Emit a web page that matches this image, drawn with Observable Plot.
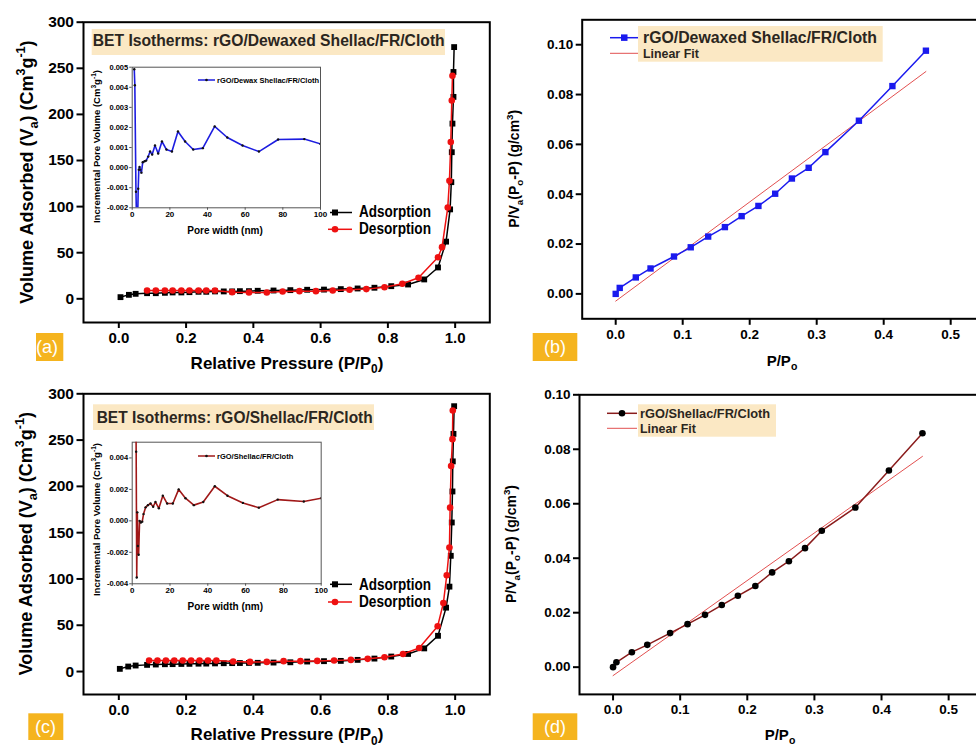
<!DOCTYPE html>
<html><head><meta charset="utf-8">
<script src="https://cdn.jsdelivr.net/npm/d3@7"></script>
<script src="https://cdn.jsdelivr.net/npm/@observablehq/plot@0.6"></script>
<style>
body{margin:0;background:#fff;}
#fig{position:relative;width:976px;height:747px;overflow:hidden;background:#fff;font-family:"Liberation Sans",Arial,sans-serif;}
</style></head>
<body><div id="fig"></div>
<script>
// ---------------- DATA ----------------
// (a) rGO/Dewaxed Shellac/FR/Cloth isotherm
const adsA_x = [0.005,0.03,0.05,0.084,0.11,0.137,0.16,0.186,0.21,0.237,0.26,0.286,0.312,0.337,0.36,0.387,0.413,0.46,0.51,0.56,0.61,0.66,0.71,0.76,0.81,0.86,0.908,0.949,0.973,0.985,0.9886,0.99,0.992,0.995,0.995,0.997];
const adsA_y = [1.8,4.3,5.4,6.1,6.1,6.5,6.9,6.9,7.2,7.6,7.6,8.0,8.0,8.0,8.3,8.3,8.7,9.0,9.4,9.8,10.0,10.5,11.2,12.0,13.7,15.5,21,34,62,97,126.5,159,190,219,246,273];
const desA_x = [0.992,0.99,0.987,0.983,0.978,0.961,0.949,0.891,0.843,0.79,0.736,0.686,0.636,0.586,0.537,0.487,0.44,0.387,0.337,0.286,0.26,0.237,0.21,0.186,0.16,0.137,0.11,0.084];
const desA_y = [242,215,170,128,99,56,45,22.8,16.3,12.6,10.5,9.8,9.0,8.3,8.3,8.0,6.9,6.9,7.2,9.0,9.0,9.0,9.0,9.0,9.0,9.0,9.0,9.0];
// (c) rGO/Shellac/FR/Cloth isotherm
const adsC_x = [0.003,0.028,0.05,0.084,0.11,0.137,0.16,0.186,0.21,0.237,0.26,0.286,0.312,0.337,0.36,0.387,0.413,0.46,0.51,0.56,0.61,0.66,0.71,0.76,0.81,0.86,0.908,0.949,0.973,0.983,0.987,0.99,0.992,0.993,0.995,0.997];
const adsC_y = [2.9,5.4,6.5,7.2,7.6,7.9,8.0,8.2,8.3,8.5,8.6,8.8,9.0,9.1,9.2,9.3,9.4,9.7,10,10.8,11.2,11.5,12.6,14,16.2,19,25,38.6,69,91.7,125,161,194.5,227,256.7,286.6];
const desC_x = [0.993,0.992,0.988,0.985,0.983,0.975,0.965,0.948,0.893,0.845,0.79,0.74,0.69,0.64,0.59,0.54,0.49,0.44,0.39,0.34,0.29,0.265,0.24,0.215,0.19,0.165,0.14,0.115,0.09];
const desC_y = [282,251,222,177,134,104,74,49,25.4,19,15.5,13.7,12.6,12,11.5,11.2,11.2,10.4,10.4,10.8,12,12,12,12,12,12,12,12,12];
// inset pore distributions
const poreA_x = [1.1,1.4,2.0,2.6,3.2,3.5,3.9,4.3,4.9,5.6,6.6,7.4,8.5,9.5,10.6,12.1,13.8,15.8,18.2,21.1,24.3,28.1,32.4,37.5,43.8,50.5,58.6,67.3,77.5,91.4,100];
const poreA_y = [0.0049,0.0041,-0.0012,-0.0040,-0.00105,-0.0001,0.00003,-0.0001,-0.00025,0.00027,0.00032,0.00035,0.00055,0.0008,0.00065,0.0011,0.0007,0.0013,0.0009,0.0008,0.0018,0.0013,0.0009,0.00097,0.00205,0.0015,0.0011,0.0008,0.0014,0.00142,0.00118];
const poreC_x = [1.8,2.1,2.4,2.7,3.0,3.4,3.9,4.6,5.3,6.0,7.1,8.3,9.7,11.1,12.3,14.1,16.2,18.5,21.5,24.6,28.2,32.6,37.6,43.7,50.4,58.6,67.0,77.0,90.8,100];
const poreC_y = [0.009,0.0044,-0.0036,0.00054,-0.0016,-0.00215,0.0,-0.0001,-0.00005,0.00043,0.00086,0.001,0.0011,0.0009,0.0012,0.0008,0.0016,0.0011,0.0011,0.002,0.00144,0.001,0.0012,0.0022,0.0016,0.00114,0.00084,0.00135,0.00123,0.00144];
// (b) BET plot
const betB_x = [0,0.006,0.03,0.052,0.087,0.112,0.138,0.163,0.188,0.213,0.238,0.263,0.288,0.313,0.363,0.413,0.463];
const betB_y = [0,0.0024,0.0066,0.0102,0.015,0.0187,0.023,0.0268,0.0312,0.0353,0.0402,0.0463,0.0506,0.0569,0.0695,0.0834,0.0976];
const fitB = {slope: 0.199, intercept: -0.0029, xmin: 0, xmax: 0.463};
// (d) BET plot
const betD_x = [0,0.005,0.028,0.051,0.085,0.111,0.137,0.162,0.186,0.212,0.237,0.262,0.286,0.311,0.361,0.411,0.461];
const betD_y = [0,0.0018,0.0055,0.0082,0.0125,0.0158,0.0192,0.0228,0.0262,0.0298,0.0348,0.0389,0.0437,0.0501,0.0586,0.0722,0.0859];
const fitD = {slope: 0.1746, intercept: -0.0031, xmin: 0, xmax: 0.461};
// ticks
const isoXTicks = [0,0.2,0.4,0.6,0.8,1.0];
const isoYTicks = [0,50,100,150,200,250,300];
const betXTicks = [0,0.1,0.2,0.3,0.4,0.5];
const betYTicks = [0,0.02,0.04,0.06,0.08,0.10];
const poreXTicks = [0,20,40,60,80,100];
const poreYTicksA = [-0.002,-0.001,0,0.001,0.002,0.003,0.004,0.005];
const poreYTicksC = [-0.004,-0.002,0,0.002,0.004];

// ---------------- HELPERS ----------------
const FONT = "'Liberation Sans', Arial, Helvetica, sans-serif";
const zip = (xs, ys) => xs.map((x, i) => ({x, y: ys[i]}));
const fitPts = f => [f.xmin, f.xmax].map(x => ({x, y: f.intercept + f.slope * x}));
const fig = document.getElementById("fig");
function place(svg, left, top) {
  svg.style.position = "absolute"; svg.style.left = left + "px"; svg.style.top = top + "px";
  fig.appendChild(svg); return svg;
}
const baseStyle = {fontFamily: FONT, fontWeight: "bold", background: "transparent", maxWidth: "none", overflow: "visible", color: "#000"};

function isoPlot(ads, des, yDomain, height, mt, mb) {
  return Plot.plot({
    width: 492, height, marginLeft: 83, marginRight: 2.7, marginTop: mt, marginBottom: mb,
    style: baseStyle,
    x: {domain: [-0.105, 1.103], label: null},
    y: {domain: yDomain, label: null},
    marks: [
      Plot.axisX({ticks: isoXTicks, tickFormat: d => d.toFixed(1), tickSize: 6, tickPadding: 3.5, fontSize: 15, strokeWidth: 2, label: null}),
      Plot.axisY({ticks: isoYTicks, tickFormat: d => String(d), tickSize: 6.5, tickPadding: 3, fontSize: 15.5, strokeWidth: 2, label: null}),
      Plot.frame({stroke: "#000", strokeWidth: 2}),
      Plot.line(ads, {x: "x", y: "y", stroke: "#000", strokeWidth: 1.5}),
      Plot.dot(ads, {x: "x", y: "y", symbol: "square", r: 3.3, fill: "#000"}),
      Plot.line(des, {x: "x", y: "y", stroke: "#ee1111", strokeWidth: 1.5}),
      Plot.dot(des, {x: "x", y: "y", r: 3.3, fill: "#ee1111"})
    ]
  });
}

function betPlot(data, fit, yDomain, width, height, ml, mt, mb, lineColor, dotSpec) {
  return Plot.plot({
    width, height, marginLeft: ml, marginRight: 2.3, marginTop: mt, marginBottom: mb,
    style: baseStyle,
    x: {domain: [-0.05, 0.55], label: null},
    y: {domain: yDomain, label: null},
    marks: [
      Plot.axisX({ticks: betXTicks, tickFormat: d => d.toFixed(1), tickSize: 6.5, tickPadding: 4, fontSize: 13.5, strokeWidth: 2, label: null}),
      Plot.axisY({ticks: betYTicks, tickFormat: d => d.toFixed(2), tickSize: 6, tickPadding: 3, fontSize: 13.5, strokeWidth: 2, label: null}),
      Plot.frame({stroke: "#000", strokeWidth: 2}),
      Plot.line(fitPts(fit), {x: "x", y: "y", stroke: "#e25050", strokeWidth: 1}),
      Plot.line(data, {x: "x", y: "y", stroke: lineColor, strokeWidth: 1.5}),
      Plot.dot(data, {x: "x", y: "y", ...dotSpec})
    ]
  });
}

function poreInset(data, yDomain, yTicks, color, width, height, mt, mb) {
  return Plot.plot({
    width, height, marginLeft: 31.7, marginRight: 10, marginTop: mt, marginBottom: mb,
    style: baseStyle,
    x: {domain: [0, 100], label: null},
    y: {domain: yDomain, label: null},
    marks: [
      Plot.axisX({ticks: poreXTicks, tickFormat: d => String(d), tickSize: 2.5, tickPadding: 1.5, fontSize: 8, stroke: "#555", label: null}),
      Plot.axisY({ticks: yTicks, tickFormat: d => d.toFixed(3), tickSize: 2.5, tickPadding: 1.5, fontSize: 7.5, stroke: "#555", label: null}),
      Plot.frame({stroke: "#555", strokeWidth: 1}),
      Plot.line(data, {x: "x", y: "y", stroke: color, strokeWidth: 1.6, clip: true}),
      Plot.dot(data, {x: "x", y: "y", r: 1.2, fill: "#111", clip: true})
    ]
  });
}

// ---------------- PANELS ----------------
place(isoPlot(zip(adsA_x, adsA_y), zip(desA_x, desA_y), [-25.7, 300], 375, 21.7, 53), 0, 0);
place(isoPlot(zip(adsC_x, adsC_y), zip(desC_x, desC_y), [-24.8, 300], 372, 18.3, 53), 0, 375);
place(betPlot(zip(betB_x, betB_y), fitB, [-0.01, 0.11], 496, 375, 91.7, 19.3, 56.7, "#1a1aee", {symbol: "square", r: 3.6, fill: "#1a1aee"}), 490, 0);
place(betPlot(zip(betD_x, betD_y), fitD, [-0.01, 0.10], 494, 372, 89, 19.3, 53.1, "#8a1c1c", {r: 3.3, fill: "#000"}), 490, 375);
place(poreInset(zip(poreA_x, poreA_y), [-0.002, 0.005], poreYTicksA, "#1d1de0", 230, 187.3, 16.7, 30), 100, 50);
place(poreInset(zip(poreC_x, poreC_y), [-0.004, 0.005], poreYTicksC, "#a01818", 230.7, 188.3, 16.7, 30), 100, 425);

// ---------------- ANNOTATION OVERLAY ----------------
const ov = d3.select(fig).append("svg")
  .attr("width", 976).attr("height", 747)
  .style("position", "absolute").style("left", "0px").style("top", "0px")
  .style("font-family", FONT).style("pointer-events", "none");

function rich(x, y, parts, size, opts = {}) {
  const g = ov.append("text")
    .attr("font-size", size).attr("font-weight", opts.weight || "bold")
    .attr("fill", opts.fill || "#000")
    .attr("text-anchor", opts.anchor || "middle");
  if (opts.rotate) g.attr("transform", `translate(${x},${y}) rotate(-90)`);
  else g.attr("x", x).attr("y", y);
  let cur = 0;
  parts.forEach(p => {
    const [s, k] = Array.isArray(p) ? p : [p, ""];
    const target = k === "sub" ? 0.28 * size : k === "sup" ? -0.42 * size : 0;
    const ts = g.append("tspan").text(s);
    if (target - cur !== 0) ts.attr("dy", target - cur);
    if (k) ts.attr("font-size", size * 0.7);
    cur = target;
  });
  if (opts.textLength) g.attr("textLength", opts.textLength).attr("lengthAdjust", "spacingAndGlyphs");
  return g;
}

// axis titles
const volParts = ["Volume Adsorbed (V", ["a", "sub"], ") (Cm", ["3", "sup"], "g", ["-1", "sup"], ")"];
rich(33, 172, volParts, 18, {rotate: true});
rich(32, 543.7, volParts, 18, {rotate: true});
const relParts = ["Relative Pressure (P/P", ["0", "sub"], ")"];
rich(287, 368.5, relParts, 17);
rich(287, 740, relParts, 17);
const bYParts = ["P/V", ["a", "sub"], "(P", ["o", "sub"], "-P) (g/cm", ["3", "sup"], ")"];
rich(519, 168.8, bYParts, 14, {rotate: true});
rich(516, 544, bYParts, 14, {rotate: true});
const bXParts = ["P/P", ["o", "sub"]];
rich(782, 366, bXParts, 15);
rich(780, 739.5, bXParts, 15);
const poreYParts = ["Incremental Pore Volume (Cm", ["3", "sup"], "g", ["-1", "sup"], ")"];
rich(100, 146.5, poreYParts, 9.5, {rotate: true});
rich(100, 519.5, poreYParts, 9.5, {rotate: true});
rich(225, 234, ["Pore width (nm)"], 10);
rich(225.3, 610, ["Pore width (nm)"], 10);

// title boxes
const TAN = "#fbe8c4";
ov.append("rect").attr("x", 91.7).attr("y", 29).attr("width", 353.3).attr("height", 26).attr("fill", TAN);
rich(92.7, 46, ["BET Isotherms: rGO/Dewaxed Shellac/FR/Cloth"], 16.5, {anchor: "start", fill: "#2b2620", textLength: 352});
ov.append("rect").attr("x", 93).attr("y", 404.3).attr("width", 281).attr("height", 25.7).attr("fill", TAN);
rich(96.7, 423.3, ["BET Isotherms: rGO/Shellac/FR/Cloth"], 16.5, {anchor: "start", fill: "#2b2620", textLength: 276});

// main legends (a),(c)
function isoLegend(y1, y2, b1, b2) {
  ov.append("line").attr("x1", 330).attr("x2", 352).attr("y1", y1).attr("y2", y1).attr("stroke", "#000").attr("stroke-width", 1.5);
  ov.append("rect").attr("x", 332).attr("y", y1 - 3).attr("width", 6).attr("height", 6).attr("fill", "#000");
  rich(359, b1, ["Adsorption"], 16, {anchor: "start", textLength: 72});
  ov.append("line").attr("x1", 328).attr("x2", 352).attr("y1", y2).attr("y2", y2).attr("stroke", "#ee1111").attr("stroke-width", 1.5);
  ov.append("circle").attr("cx", 335).attr("cy", y2).attr("r", 3.3).attr("fill", "#ee1111");
  rich(359, b2, ["Desorption"], 16, {anchor: "start", textLength: 72});
}
isoLegend(212.5, 229.3, 216.7, 234);
isoLegend(584.3, 602, 590, 607.3);

// BET legends
ov.append("rect").attr("x", 638).attr("y", 26).attr("width", 244.7).attr("height", 35.7).attr("fill", TAN);
ov.append("line").attr("x1", 610).attr("x2", 638).attr("y1", 37.7).attr("y2", 37.7).attr("stroke", "#1a1aee").attr("stroke-width", 1.5);
ov.append("rect").attr("x", 621).attr("y", 34.4).attr("width", 6.5).attr("height", 6.5).attr("fill", "#1a1aee");
rich(643, 43.3, ["rGO/Dewaxed Shellac/FR/Cloth"], 16, {anchor: "start", fill: "#2b2620", textLength: 234});
ov.append("line").attr("x1", 610).attr("x2", 638).attr("y1", 53.3).attr("y2", 53.3).attr("stroke", "#e25050").attr("stroke-width", 1);
rich(643, 58.3, ["Linear Fit"], 12.4, {anchor: "start", fill: "#2b2620"});

ov.append("rect").attr("x", 638).attr("y", 404.3).attr("width", 138).attr("height", 32.4).attr("fill", TAN);
ov.append("line").attr("x1", 607).attr("x2", 637).attr("y1", 413.3).attr("y2", 413.3).attr("stroke", "#8a1c1c").attr("stroke-width", 1.5);
ov.append("circle").attr("cx", 622).attr("cy", 413.3).attr("r", 3.3).attr("fill", "#000");
rich(640, 417.7, ["rGO/Shellac/FR/Cloth"], 12.8, {anchor: "start", fill: "#2b2620"});
ov.append("line").attr("x1", 607).attr("x2", 637).attr("y1", 428.3).attr("y2", 428.3).attr("stroke", "#e25050").attr("stroke-width", 1);
rich(640, 433.3, ["Linear Fit"], 12.4, {anchor: "start", fill: "#2b2620"});

// inset legends
function insetLegend(y, color, label) {
  ov.append("line").attr("x1", 198).attr("x2", 215).attr("y1", y).attr("y2", y).attr("stroke", color).attr("stroke-width", 1.5);
  ov.append("circle").attr("cx", 206.5).attr("cy", y).attr("r", 1.3).attr("fill", "#111");
  rich(217, y + 2.6, [label], 7.5, {anchor: "start"});
}
insetLegend(80, "#1d1de0", "rGO/Dewax Shellac/FR/Cloth");
insetLegend(456, "#a01818", "rGO/Shellac/FR/Cloth");

// panel labels
function panelLabel(x, y, w, h, tx, s) {
  ov.append("rect").attr("x", x).attr("y", y).attr("width", w).attr("height", h).attr("fill", "#f5b41e");
  rich(tx, y + h / 2 + 6.3, [s], 18, {weight: "normal", fill: "#fff"});
}
panelLabel(36, 333, 27.3, 28, 47, "(a)");
panelLabel(532.7, 333, 44.6, 28, 555, "(b)");
panelLabel(28.3, 713.3, 35, 26.7, 45.5, "(c)");
panelLabel(532.7, 713.3, 44.6, 26.7, 555, "(d)");
</script>
</body></html>
